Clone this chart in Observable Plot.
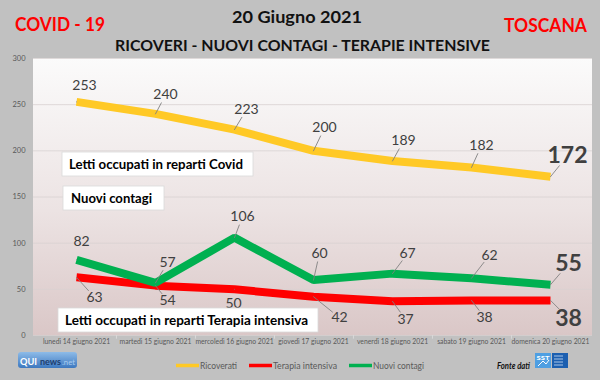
<!DOCTYPE html>
<html>
<head>
<meta charset="utf-8">
<script src="https://cdn.jsdelivr.net/npm/d3@7"></script>
<script src="https://cdn.jsdelivr.net/npm/@observablehq/plot@0.6"></script>
<style>
  body { margin: 0; background: #c1c1c1; }
  #wrap { position: relative; width: 600px; height: 380px; background: #c1c1c1; overflow: hidden; font-family: Lato, "Open Sans", sans-serif; }
  #wrap > svg { position: absolute; left: 0; top: 0; }
  #overlay { pointer-events: none; }
</style>
</head>
<body>
<div id="wrap"></div>
<script>
// ---- data ----
const days = ["lunedì 14 giugno 2021", "martedì 15 giugno 2021", "mercoledì 16 giugno 2021", "giovedì 17 giugno 2021", "venerdì 18 giugno 2021", "sabato 19 giugno 2021", "domenica 20 giugno 2021"];
const ricoverati = [253, 240, 223, 200, 189, 182, 172];
const terapiaIntensiva = [63, 54, 50, 42, 37, 38, 38];
const nuoviContagi = [82, 57, 106, 60, 67, 62, 55];
const yTicks = [0, 50, 100, 150, 200, 250, 300];
const seriesNames = ["Ricoverati", "Terapia intensiva", "Nuovi contagi"];
const seriesColors = ["#ffc926", "#ff0000", "#00b050"];

// ---- label placement (pixel offsets from each point) ----
const ricoveratiLabelOffset = [[8, -16], [10, -19], [12, -20], [11, -23], [11, -20], [10, -22], [17, -21]];
const terapiaLabelOffset = [[18, 20], [12, 15], [-1, 14], [26, 21], [13, 18], [13, 17], [18, 18]];
const contagiLabelOffset = [[5, -18], [12, -20], [8, -21], [6, -27], [15, -20], [18, -23], [18, -21]];

const offsets = [ricoveratiLabelOffset, terapiaLabelOffset, contagiLabelOffset];
const rows = [];
[ricoverati, terapiaIntensiva, nuoviContagi].forEach((vals, s) =>
  vals.forEach((v, i) => rows.push({
    day: days[i], series: seriesNames[s], value: v,
    last: i === vals.length - 1, ldx: offsets[s][i][0], ldy: offsets[s][i][1]
  }))
);

const W = 600, H = 380, mL = 33, mR = 8, mT = 58, mB = 45;
const step = (W - mL - mR) / days.length;
const leader = { draw(context, l) { context.moveTo(0, 0); context.lineTo(0, -l); } };

const chart = Plot.plot({
  width: W, height: H,
  marginLeft: mL, marginRight: mR, marginTop: mT, marginBottom: mB,
  style: { fontFamily: "Lato, sans-serif", background: "transparent", overflow: "visible" },
  x: { type: "point", domain: days, padding: 0.5, label: null },
  y: { domain: [0, 300], label: null },
  length: { type: "identity" },
  color: { domain: seriesNames, range: seriesColors },
  marks: [
    Plot.gridY(yTicks, { stroke: "#d8d2d2", strokeOpacity: 1, strokeWidth: 0.8 }),
    Plot.axisY(yTicks, { tickSize: 0, tickPadding: 8, fontSize: 7.5, fill: "#595959", label: null }),
    Plot.axisX({ tickSize: 0, tickPadding: 4, fontSize: 6.8, fill: "#595959", label: null }),
    Plot.ruleX(days.slice(0, -1), { dx: step / 2, y1: 0, y2: -4, stroke: "#d9d9d9" }),
    Plot.line(rows, { x: "day", y: "value", z: "series", stroke: "series", strokeWidth: 8, strokeLinejoin: "miter", strokeLinecap: "butt" }),
    Plot.vector(rows, {
      x: "day", y: "value", anchor: "start", shape: leader,
      rotate: d => Math.atan2(d.ldx, -d.ldy) * 180 / Math.PI,
      length: d => { const dist = Math.hypot(d.ldx, d.ldy); return dist > 19 ? dist - (d.last ? 13 : 9) : 0; },
      stroke: "#7f7f7f", strokeWidth: 0.8
    }),
    ...rows.map(r => Plot.text([r], {
      x: "day", y: "value", text: d => String(d.value),
      dx: r.ldx, dy: r.ldy,
      fontSize: r.last ? 23 : 14, fontWeight: r.last ? "bold" : "normal",
      fill: "#404040"
    }))
  ]
});

document.getElementById("wrap").appendChild(chart);

// plot-area gradient background (behind marks)
const svg = d3.select(chart);
const defs = svg.insert("defs", ":first-child");
const grad = defs.append("linearGradient").attr("id", "plotbg").attr("x1", 0).attr("y1", 0).attr("x2", 0).attr("y2", 1);
grad.append("stop").attr("offset", "0%").attr("stop-color", "#fbfbfb");
grad.append("stop").attr("offset", "55%").attr("stop-color", "#ece3e3");
grad.append("stop").attr("offset", "100%").attr("stop-color", "#dac7c7");
svg.insert("rect", "g").attr("x", mL).attr("y", mT).attr("width", W - mL - mR).attr("height", H - mT - mB).attr("fill", "url(#plotbg)");

// ---- overlay: titles, annotation boxes, legend, sources ----
const ov = d3.select("#wrap").append("svg").attr("id", "overlay").attr("width", W).attr("height", H)
  .style("font-family", "Lato, sans-serif");

function txt(s, x, y, o = {}) {
  const t = ov.append("text").attr("x", x).attr("y", y).text(s)
    .attr("font-size", o.size || 12).attr("font-weight", o.weight || "normal")
    .attr("font-style", o.style || "normal").attr("fill", o.fill || "#000")
    .attr("text-anchor", o.anchor || "start");
  if (o.len) t.attr("textLength", o.len).attr("lengthAdjust", "spacingAndGlyphs");
  return t;
}

txt("COVID - 19", 15, 30.5, { size: 18, weight: "bold", fill: "#ff0000", len: 90 });
txt("TOSCANA", 504, 32, { size: 18, weight: "bold", fill: "#ff0000", len: 83 });
txt("20 Giugno 2021", 232, 23, { size: 17, weight: "bold", fill: "#111", len: 130 });
txt("RICOVERI - NUOVI CONTAGI - TERAPIE INTENSIVE", 115, 50.5, { size: 15.5, weight: "bold", fill: "#111", len: 375 });

function box(s, x, y, w, h, tx, tlen) {
  ov.append("rect").attr("x", x).attr("y", y).attr("width", w).attr("height", h)
    .attr("fill", "#fff").attr("stroke", "#d9d9d9").attr("stroke-width", 0.8);
  txt(s, tx, y + h / 2 + 4.6, { size: 13, weight: "bold", fill: "#000", len: tlen });
}
box("Letti occupati in reparti Covid", 62, 152, 191, 24, 69, 174);
box("Nuovi contagi", 63, 186, 101, 24, 71, 81);
box("Letti occupati in reparti Terapia intensiva", 58, 308, 260, 24, 65, 243);

// legend
const legend = [
  { name: seriesNames[0], color: seriesColors[0], x: 176, len: 37 },
  { name: seriesNames[1], color: seriesColors[1], x: 249, len: 64 },
  { name: seriesNames[2], color: seriesColors[2], x: 349, len: 51 }
];
legend.forEach(l => {
  ov.append("line").attr("x1", l.x).attr("x2", l.x + 23).attr("y1", 365.5).attr("y2", 365.5)
    .attr("stroke", l.color).attr("stroke-width", 3.5);
  txt(l.name, l.x + 24, 369, { size: 9.5, fill: "#595959", len: l.len });
});

txt("Fonte dati", 497, 369, { size: 9, style: "italic", weight: "bold", fill: "#111", len: 33 });

// SST logo
ov.append("rect").attr("x", 535).attr("y", 353).attr("width", 16).attr("height", 15).attr("fill", "#4f9fe2");
txt("SST", 536.5, 359.5, { size: 6, weight: "bold", fill: "#fff", len: 13 });
ov.append("path").attr("d", "M538 366 L543 361 L546 364 L549 360").attr("stroke", "#fff").attr("stroke-width", 1).attr("fill", "none");
ov.append("rect").attr("x", 552).attr("y", 353).attr("width", 16).attr("height", 15).attr("fill", "#1c5fb0");
[356, 359, 362, 365].forEach(y => ov.append("line").attr("x1", 554).attr("x2", 563).attr("y1", y).attr("y2", y).attr("stroke", "#cfe0f5").attr("stroke-width", 0.8));

// QUI news logo
const ovdefs = ov.append("defs");
const qg = ovdefs.append("linearGradient").attr("id", "quibg2").attr("x1", 0).attr("y1", 0).attr("x2", 0).attr("y2", 1);
qg.append("stop").attr("offset", "0%").attr("stop-color", "#8dbbe8");
qg.append("stop").attr("offset", "100%").attr("stop-color", "#3d78bf");
ov.append("rect").attr("x", 18).attr("y", 352).attr("width", 59).attr("height", 16).attr("rx", 3).attr("fill", "url(#quibg2)");
txt("QUI", 20, 365, { size: 10, weight: "bold", fill: "#fff", len: 17 });
txt("news", 40, 364.5, { size: 8.5, weight: "bold", fill: "#1d3d6e", len: 21 });
txt(".net", 62, 364.5, { size: 7.5, fill: "#a9cdf0", len: 13 });
</script>
</body>
</html>
